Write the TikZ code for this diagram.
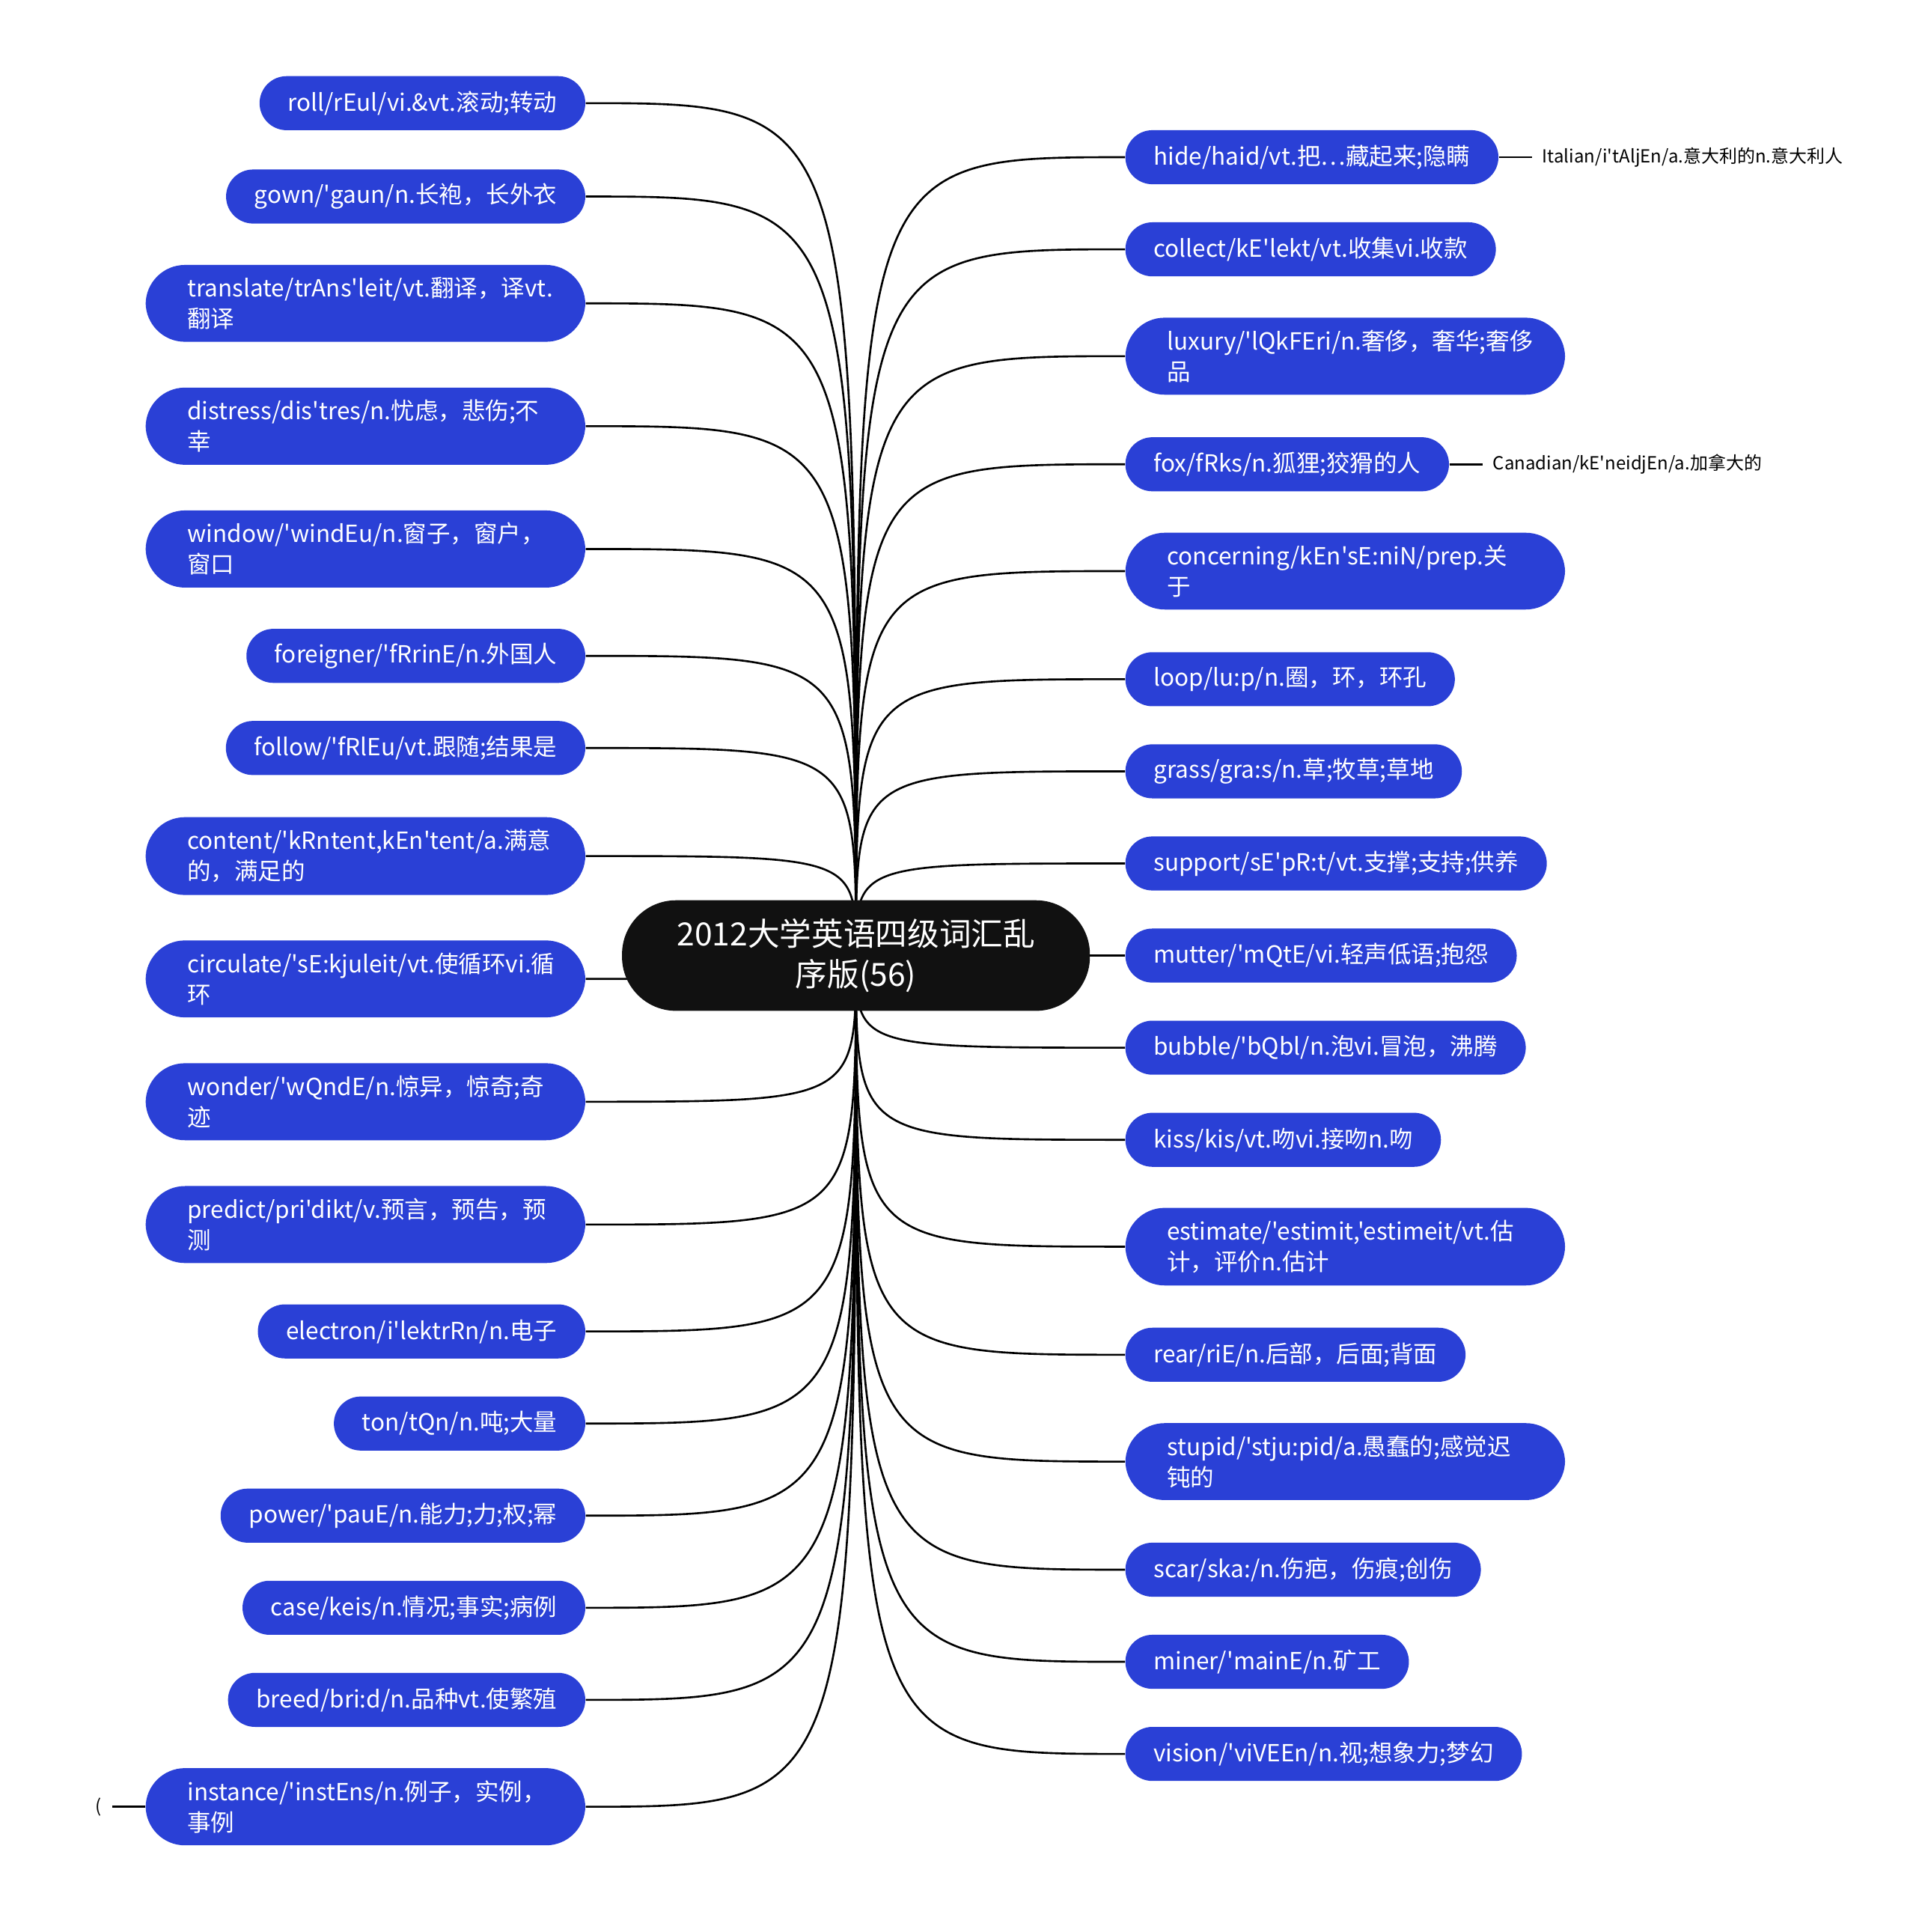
\documentclass[tikz,border=0pt]{standalone}
\usepackage{fontspec}
\setmainfont{Noto Sans CJK SC}[Ligatures=TeXOff]
\usetikzlibrary{positioning}
\definecolor{wordblue}{RGB}{42,64,214}
\definecolor{rootblack}{RGB}{17,17,17}

\tikzset{
  word/.style={fill=wordblue, text=white, rounded corners=11pt, font=\fontsize{9.6}{12.5}\selectfont,
    minimum height=22pt, inner xsep=11.5pt, inner ysep=5pt},
  wide/.style={word, rounded corners=16pt, text width=145pt, align=left, inner xsep=17pt},
  note/.style={font=\fontsize{7.3}{9}\selectfont, inner xsep=4pt, inner ysep=0pt},
  link/.style={black, line width=0.8pt}
}

\begin{document}
\begin{tikzpicture}[x=0.5pt, y=-0.5pt]

    \useasboundingbox (0,0) rectangle (1560,1573);
    \coordinate (hub) at (697,778);

    % left words
    \node[word, anchor=east] (roll) at (477,84) {roll/rEul/vi.\&vt.滚动;转动};
    \node[word, anchor=east] (gown) at (477,160) {gown/'gaun/n.长袍，长外衣};
    \node[wide, anchor=east] (translate) at (477,247) {translate/trAns'leit/vt.翻译，译vt.\\翻译};
    \node[wide, anchor=east] (distress) at (477,347) {distress/dis'tres/n.忧虑，悲伤;不\\幸};
    \node[wide, anchor=east] (window) at (477,447) {window/'windEu/n.窗子，窗户，\\窗口};
    \node[word, anchor=east] (foreigner) at (477,534) {foreigner/'fRrinE/n.外国人};
    \node[word, anchor=east] (follow) at (477,609) {follow/'fRlEu/vt.跟随;结果是};
    \node[wide, anchor=east] (content) at (477,697) {content/'kRntent,kEn'tent/a.满意\\的，满足的};
    \node[wide, anchor=east] (circulate) at (477,797) {circulate/'sE:kjuleit/vt.使循环vi.循\\环};
    \node[wide, anchor=east] (wonder) at (477,897) {wonder/'wQndE/n.惊异，惊奇;奇\\迹};
    \node[wide, anchor=east] (predict) at (477,997) {predict/pri'dikt/v.预言，预告，预\\测};
    \node[word, anchor=east] (electron) at (477,1084) {electron/i'lektrRn/n.电子};
    \node[word, anchor=east] (ton) at (477,1159) {ton/tQn/n.吨;大量};
    \node[word, anchor=east] (power) at (477,1234) {power/'pauE/n.能力;力;权;幂};
    \node[word, anchor=east] (case) at (477,1309) {case/keis/n.情况;事实;病例};
    \node[word, anchor=east] (breed) at (477,1384) {breed/bri:d/n.品种vt.使繁殖};
    \node[wide, anchor=east] (instance) at (477,1471) {instance/'instEns/n.例子，实例，\\事例};

    % right words
    \node[word, anchor=west] (hide) at (916,128) {hide/haid/vt.把…藏起来;隐瞒};
    \node[word, anchor=west] (collect) at (916,203) {collect/kE'lekt/vt.收集vi.收款};
    \node[wide, anchor=west] (luxury) at (916,290) {luxury/'lQkFEri/n.奢侈，奢华;奢侈\\品};
    \node[word, anchor=west] (fox) at (916,378) {fox/fRks/n.狐狸;狡猾的人};
    \node[wide, anchor=west] (concerning) at (916,465) {concerning/kEn'sE:niN/prep.关\\于};
    \node[word, anchor=west] (loop) at (916,553) {loop/lu:p/n.圈，环，环孔};
    \node[word, anchor=west] (grass) at (916,628) {grass/gra:s/n.草;牧草;草地};
    \node[word, anchor=west] (support) at (916,703) {support/sE'pR:t/vt.支撑;支持;供养};
    \node[word, anchor=west] (mutter) at (916,778) {mutter/'mQtE/vi.轻声低语;抱怨};
    \node[word, anchor=west] (bubble) at (916,853) {bubble/'bQbl/n.泡vi.冒泡，沸腾};
    \node[word, anchor=west] (kiss) at (916,928) {kiss/kis/vt.吻vi.接吻n.吻};
    \node[wide, anchor=west] (estimate) at (916,1015) {estimate/'estimit,'estimeit/vt.估\\计，评价n.估计};
    \node[word, anchor=west] (rear) at (916,1103) {rear/riE/n.后部，后面;背面};
    \node[wide, anchor=west] (stupid) at (916,1190) {stupid/'stju:pid/a.愚蠢的;感觉迟\\钝的};
    \node[word, anchor=west] (scar) at (916,1278) {scar/ska:/n.伤疤，伤痕;创伤};
    \node[word, anchor=west] (miner) at (916,1353) {miner/'mainE/n.矿工};
    \node[word, anchor=west] (vision) at (916,1428) {vision/'viVEEn/n.视;想象力;梦幻};

    % side notes
    \node[note, right=27 of hide, anchor=west] (italian) {Italian/i'tAljEn/a.意大利的n.意大利人};
    \node[note, right=27 of fox, anchor=west] (canadian) {Canadian/kE'neidjEn/a.加拿大的};
    \node[note, left=27 of instance, anchor=east] (paren) {(};
    \draw[link] (hide) -- (italian);
    \draw[link] (fox) -- (canadian);
    \draw[link] (instance) -- (paren);

    % branches
    \foreach \w in {roll,gown,translate,distress,window,foreigner,follow,content,circulate,
                    wonder,predict,electron,ton,power,case,breed,instance}
        \draw[link] (hub) .. controls (hub |- \w.east) .. (\w.east);
    \foreach \w in {hide,collect,luxury,fox,concerning,loop,grass,support,mutter,bubble,
                    kiss,estimate,rear,stupid,scar,miner,vision}
        \draw[link] (hub) .. controls (hub |- \w.west) .. (\w.west);

    % root
    \node[fill=rootblack, text=white, rounded corners=22pt, minimum width=190.5pt, minimum height=45pt,
          align=center, font=\fontsize{13}{16.5}\selectfont] (root) at (hub) {2012大学英语四级词汇乱\\序版(56)};

\end{tikzpicture}
\end{document}
